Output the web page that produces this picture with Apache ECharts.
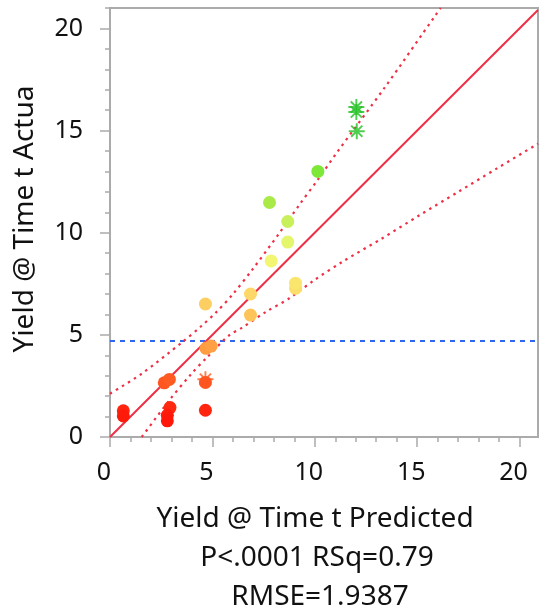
<!DOCTYPE html>
<html>
<head>
<meta charset="utf-8">
<script src="https://cdn.jsdelivr.net/npm/echarts@6/dist/echarts.min.js"></script>
<style>
  html, body { margin: 0; padding: 0; background: #ffffff; }
  #chart { width: 547px; height: 614px; }
</style>
</head>
<body>
<div id="chart"></div>
<script>
// Yield at time t: actual against predicted, with fit line and confidence curves

// observed rows drawn as dots [predicted, actual]
const circlePoints = [
  [0.65, 1.28], [0.65, 1.03], [2.93, 1.44], [2.80, 1.06], [2.80, 0.79], [4.66, 1.31],
  [2.65, 2.65], [2.90, 2.82], [4.66, 2.67],
  [4.69, 4.34], [4.94, 4.45],
  [6.86, 5.97], [4.66, 6.51], [6.86, 7.00], [9.06, 7.28], [9.06, 7.53],
  [7.87, 8.62], [8.68, 9.54], [8.68, 10.55], [7.79, 11.48], [10.15, 13.00]
];
// rows drawn with an asterisk marker
const starPoints = [[4.66, 2.83], [12.03, 16.15], [12.03, 15.91], [12.05, 14.97]];

// line of fit (actual = predicted)
const fitLine = [[0, 0], [20.9, 20.9]];
// mean of the actual response
const meanActual = 4.70;

// confidence curves around the fit
const upperCurve = [
  [0, 2.12], [1.52, 3.08], [3.55, 4.66], [4.45, 5.42], [5.18, 6.10], [5.99, 6.98],
  [6.97, 8.22], [8.27, 9.98], [9.25, 11.37], [10.15, 12.60], [11.12, 13.98],
  [13.41, 17.10], [15.96, 20.74], [16.15, 21.0]
];
const lowerCurve = [
  [1.55, 0], [2.90, 1.80], [3.96, 3.08], [4.69, 3.85], [5.83, 4.99], [6.40, 5.32],
  [7.62, 6.13], [8.76, 6.79], [9.99, 7.69], [11.37, 8.59], [13.25, 9.70],
  [15.12, 10.86], [16.99, 11.99], [18.90, 13.15], [20.82, 14.31], [20.9, 14.36]
];

const xTicks = [0, 5, 10, 15, 20];
const yTicks = [0, 5, 10, 15, 20];
const xTitle = 'Yield @ Time t Predicted';
const yTitle = 'Yield @ Time t Actua';
const statLines = ['P<.0001 RSq=0.79', 'RMSE=1.9387'];

const X_MAX = 20.9, Y_MAX = 21.0;
const FONT = 'Noto Sans';
const AXIS_GREY = '#ababab';
const FIT_RED = '#ee2f45';

function minorValues(major, top) {
  const out = [];
  for (let v = 0; v <= top; v += 1) if (major.indexOf(v) < 0) out.push(v);
  return out;
}

// 8-armed asterisk as a filled outline
const ASTERISK = 'path://M8.8 0L11.2 0L11.2 20L8.8 20Z M0 8.8L20 8.8L20 11.2L0 11.2Z ' +
  'M3.85 2.15L17.85 16.15L16.15 17.85L2.15 3.85Z M16.15 2.15L17.85 3.85L3.85 17.85L2.15 16.15Z';

const chart = echarts.init(document.getElementById('chart'), null, { renderer: 'canvas' });

const majorAxis = (max, ticks, isX) => ({
  type: 'value', min: 0, max: max, position: isX ? 'bottom' : 'left',
  axisLine: { show: true, lineStyle: { color: AXIS_GREY, width: 2 } },
  axisTick: { show: true, customValues: ticks, length: 10, lineStyle: { color: AXIS_GREY, width: 1.5 } },
  axisLabel: isX
    ? { customValues: ticks, fontFamily: FONT, fontSize: 25, color: '#111', margin: 23, padding: [0, 12, 0, 0] }
    : { customValues: ticks, fontFamily: FONT, fontSize: 25, color: '#111', margin: 27 },
  splitLine: { show: false }
});
const minorAxis = (max, ticks, isX) => ({
  type: 'value', min: 0, max: max, position: isX ? 'bottom' : 'left', offset: 0,
  axisLine: { show: false },
  axisTick: { show: true, customValues: minorValues(ticks, Math.floor(max)), length: 5, lineStyle: { color: AXIS_GREY, width: 1.5 } },
  axisLabel: { show: false },
  splitLine: { show: false }
});

const titleStyle = (text) => ({
  text: text, fontFamily: FONT, fontSize: 28, fill: '#111', align: 'center', verticalAlign: 'middle'
});

const option = {
  backgroundColor: '#ffffff',
  animation: false,
  grid: { left: 110, right: 9, top: 8, bottom: 177, show: true, borderColor: AXIS_GREY, borderWidth: 2, containLabel: false },
  xAxis: [majorAxis(X_MAX, xTicks, true), minorAxis(X_MAX, xTicks, true)],
  yAxis: [majorAxis(Y_MAX, yTicks, false), minorAxis(Y_MAX, yTicks, false)],
  visualMap: {
    show: false, type: 'continuous', dimension: 1, min: 0, max: 16, seriesIndex: [4, 5],
    inRange: {
      color: ['#ff1208', '#ff1a0a', '#ff3c18', '#ff6224', '#ff9038', '#fdb450', '#fdc45a',
              '#fdd868', '#f8f272', '#eef872', '#dcf466', '#b8ec50', '#98e840', '#7ee838',
              '#50d42c', '#22c022', '#22c022']
    }
  },
  series: [
    {
      type: 'line', data: [[0, meanActual], [X_MAX, meanActual]], showSymbol: false, silent: true,
      lineStyle: { color: '#2f66f0', width: 2, type: [5, 5] }, z: 2
    },
    {
      type: 'line', data: fitLine, showSymbol: false, silent: true,
      lineStyle: { color: FIT_RED, width: 2 }, z: 2
    },
    {
      type: 'line', data: upperCurve, showSymbol: false, silent: true, smooth: 0.3,
      lineStyle: { color: FIT_RED, width: 2.2, type: [2.5, 4.5] }, z: 2
    },
    {
      type: 'line', data: lowerCurve, showSymbol: false, silent: true, smooth: 0.3,
      lineStyle: { color: FIT_RED, width: 2.2, type: [2.5, 4.5] }, z: 2
    },
    {
      type: 'scatter', data: starPoints, symbol: ASTERISK, symbolSize: 16, z: 3
    },
    {
      type: 'scatter', data: circlePoints, symbol: 'circle', symbolSize: 13, z: 4,
      itemStyle: { opacity: 1 }
    }
  ],
  graphic: [
    { type: 'text', x: 25, y: 219, rotation: Math.PI / 2, style: titleStyle(yTitle) },
    { type: 'text', x: 315, y: 519, style: titleStyle(xTitle) },
    { type: 'text', x: 317, y: 558, style: titleStyle(statLines[0]) },
    { type: 'text', x: 320, y: 597, style: titleStyle(statLines[1]) }
  ]
};

chart.setOption(option);
</script>
</body>
</html>
